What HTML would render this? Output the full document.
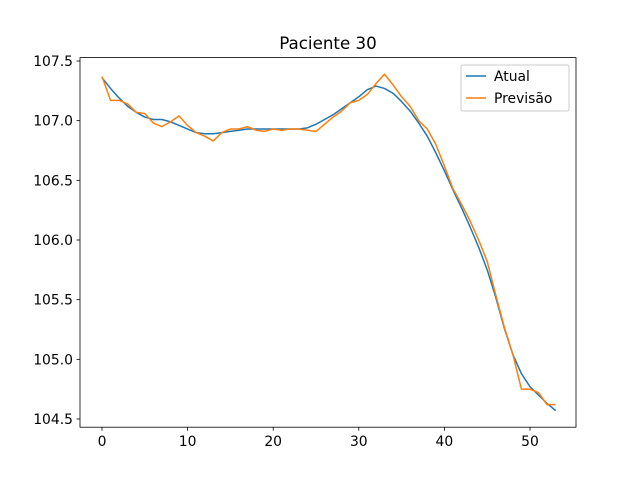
<!DOCTYPE html>
<html><head><meta charset="utf-8"><style>
body{margin:0;background:#fff}
text{font-family:"DejaVu Sans","Liberation Sans",sans-serif;fill:#000}
</style></head><body>
<svg id="chart" width="640" height="480" xmlns="http://www.w3.org/2000/svg">
<rect width="640" height="480" fill="#fff"/>
<text x="328" y="49" font-size="16.7" text-anchor="middle">Paciente 30</text>
<g id="ticks"></g>
<g id="series"></g>
<rect x="80" y="57.6" width="496" height="369.6" fill="none" stroke="#000" stroke-width="0.8"/>
<g>
<rect x="461" y="65" width="108" height="46" fill="#fff" fill-opacity="0.8" stroke="#ccc" rx="2"/>
<line x1="466" y1="76" x2="486" y2="76" stroke="#1f77b4" stroke-width="1.5"/>
<text x="494" y="81" font-size="13.9">Atual</text>
<line x1="466" y1="98" x2="486" y2="98" stroke="#ff7f0e" stroke-width="1.5"/>
<text x="494" y="103" font-size="13.9">Previsão</text>
</g>
</svg>
<script>
const atual=[107.36,107.27,107.19,107.12,107.07,107.03,107.01,107.01,106.99,106.96,106.93,106.90,106.89,106.89,106.90,106.91,106.92,106.93,106.93,106.93,106.93,106.93,106.93,106.93,106.94,106.97,107.01,107.05,107.10,107.15,107.20,107.26,107.29,107.27,107.23,107.16,107.08,106.98,106.87,106.73,106.58,106.42,106.27,106.11,105.94,105.75,105.52,105.26,105.04,104.88,104.77,104.70,104.63,104.57];
const previsao=[107.37,107.17,107.17,107.14,107.07,107.06,106.98,106.95,106.99,107.04,106.96,106.90,106.87,106.83,106.90,106.93,106.93,106.95,106.92,106.91,106.93,106.92,106.93,106.93,106.92,106.91,106.97,107.03,107.08,107.15,107.17,107.22,107.31,107.39,107.30,107.20,107.12,107.00,106.93,106.80,106.62,106.43,106.30,106.16,106.00,105.82,105.54,105.27,105.04,104.75,104.75,104.72,104.62,104.62];
const xTicks=[0,10,20,30,40,50];
const yTicks=[104.5,105.0,105.5,106.0,106.5,107.0,107.5];
const NS="http://www.w3.org/2000/svg";
function xs(v){return 102+v*8.56;}
function ys(v){return 61+(107.5-v)*119.33;}
const tg=document.getElementById('ticks');
function mk(t,a){const e=document.createElementNS(NS,t);for(const k in a)e.setAttribute(k,a[k]);return e;}
xTicks.forEach(t=>{
 const l=mk('line',{x1:xs(t),x2:xs(t),y1:427.2,y2:430.7,stroke:'#000','stroke-width':0.8});
 
 
 tg.appendChild(l);
 const tx=mk('text',{x:xs(t),y:446,'font-size':13.9,'text-anchor':'middle'});
 
 
 tx.textContent=t;tg.appendChild(tx);
});
yTicks.forEach(t=>{
 const l=mk('line',{x1:76.5,x2:80,y1:ys(t),y2:ys(t),stroke:'#000','stroke-width':0.8});
 
 
 tg.appendChild(l);
 const tx=mk('text',{x:73,y:ys(t)+5,'font-size':13.9,'text-anchor':'end'});
 
 
 tx.textContent=t.toFixed(1);tg.appendChild(tx);
});
const sg=document.getElementById('series');
function line(d,c,n){
 const p=mk('polyline',{points:d.map((v,i)=>xs(i)+','+ys(v)).join(' '),fill:'none',stroke:c,'stroke-width':1.5,'stroke-linejoin':'round'});
 
 
 sg.appendChild(p);
}
line(atual,'#1f77b4','atual-line');
line(previsao,'#ff7f0e','previsao-line');
</script>
</body></html>
